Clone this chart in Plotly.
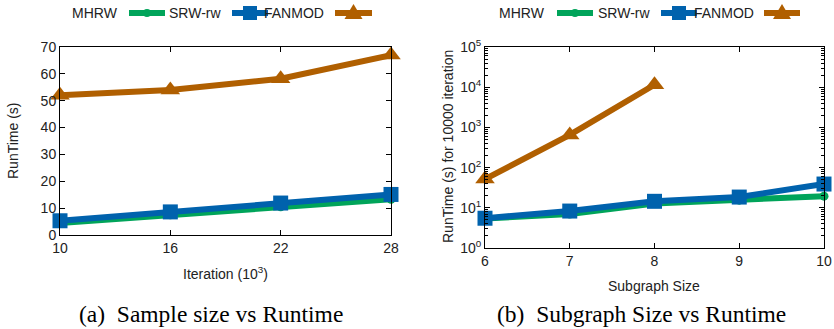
import plotly.graph_objects as go

W, H = 834, 329

# ---- data ----
iters = [10, 16, 22, 28]
mhrw_a = [4.5, 7.5, 10.5, 13.3]
srw_a = [5.3, 8.6, 11.9, 15.1]
fan_a = [52, 54, 58.2, 67]

sizes = [6, 7, 8, 9, 10]
mhrw_b = [5.4, 7.0, 12.8, 15.5, 19.5]
srw_b = [5.5, 8.3, 14.5, 18.5, 39]
fan_sizes = [6, 7, 8]
fan_b = [52, 650, 11500]

series_names = ["MHRW", "SRW-rw", "FANMOD"]
colors = ["#00a45a", "#0062ad", "#b05f00"]
symbols = ["circle", "square", "triangle-up"]
msizes = [9, 15, 17]

yticks_b = [1, 10, 100, 1000, 10000, 100000]
yticktext_b = ["10<sup>%d</sup>" % i for i in range(6)]


def px(x):
    return x / W


def py(y):
    return 1 - y / H


fig = go.Figure()


def add(xs, ys, i, xa, ya):
    fig.add_trace(go.Scatter(
        x=xs, y=ys, mode="lines+markers", name=series_names[i],
        line=dict(color=colors[i], width=6),
        marker=dict(symbol=symbols[i], size=msizes[i], color=colors[i]),
        cliponaxis=False, showlegend=False, xaxis=xa, yaxis=ya))


add(iters, mhrw_a, 0, "x", "y")
add(iters, srw_a, 1, "x", "y")
add(iters, fan_a, 2, "x", "y")
add(sizes, mhrw_b, 0, "x2", "y2")
add(sizes, srw_b, 1, "x2", "y2")
add(fan_sizes, fan_b, 2, "x2", "y2")

SANS = "Liberation Sans, Arial"
tickfont = dict(family=SANS, size=14, color="#222")
common = dict(showline=True, linecolor="black", linewidth=1, mirror="allticks",
              ticks="inside", ticklen=5, tickcolor="black", showgrid=False,
              zeroline=False, tickfont=tickfont, automargin=False)

fig.update_layout(
    template="none",
    width=W, height=H, margin=dict(l=0, r=0, t=0, b=0, pad=0),
    plot_bgcolor="white", paper_bgcolor="white", showlegend=False,
    xaxis=dict(domain=[px(60), px(391)], range=[10, 28], tickvals=iters, anchor="y", **common),
    yaxis=dict(domain=[py(235), py(47)], range=[0, 70], dtick=10, anchor="x", **common),
    xaxis2=dict(domain=[px(485), px(824)], range=[6, 10], dtick=1, anchor="y2", **common),
    yaxis2=dict(domain=[py(248), py(47)], type="log", range=[0, 5], tickvals=yticks_b,
                ticktext=yticktext_b, anchor="x2",
                minor=dict(ticks="inside", ticklen=3, tickcolor="black",
                           tickvals=[m * 10 ** e for e in range(5) for m in range(2, 10)]),
                **common),
)

annots = []


def note(x, y, text, font, angle=0, xanchor="center"):
    annots.append(dict(x=px(x), y=py(y), text=text, showarrow=False, textangle=angle,
                       xanchor=xanchor, yanchor="middle", xref="paper", yref="paper", font=font))


lab = dict(family=SANS, size=14, color="#222")
note(225, 273, "Iteration (10<sup>3</sup>)", lab)
note(13, 141, "RunTime (s)", lab, angle=-90)
note(654, 286, "Subgraph Size", lab)
note(448, 147, "RunTime (s) for 10000 iteration", lab, angle=-90)

cap = dict(family="Liberation Serif, Times New Roman", size=23.5, color="black")
note(211, 314, "(a)\u00a0 Sample size vs Runtime", cap)
note(641, 314, "(b)\u00a0 Subgraph Size vs Runtime", cap)

shapes = []
legends = [
    [(120, 129, 165), (223, 232, 268), (326, 335, 372)],
    [(547, 557, 593), (652, 661, 697), (756, 764, 800)],
]
ly = 13
for leg in legends:
    for i, (tr, l0, l1) in enumerate(leg):
        note(tr, ly, series_names[i], dict(family=SANS, size=14, color="#222"), xanchor="right")
        shapes.append(dict(type="line", xref="paper", yref="paper", x0=px(l0), x1=px(l1),
                           y0=py(ly), y1=py(ly), line=dict(color=colors[i], width=6)))
        cx = (l0 + l1) / 2
        if i == 0:
            r = 4
            shapes.append(dict(type="circle", xref="paper", yref="paper", x0=px(cx - r), x1=px(cx + r),
                               y0=py(ly + r), y1=py(ly - r), fillcolor=colors[i], line=dict(width=0)))
        elif i == 1:
            r = 7
            shapes.append(dict(type="rect", xref="paper", yref="paper", x0=px(cx - r), x1=px(cx + r),
                               y0=py(ly + r), y1=py(ly - r), fillcolor=colors[i], line=dict(width=0)))
        else:
            path = "M %f %f L %f %f L %f %f Z" % (px(cx - 9), py(ly + 6), px(cx + 9), py(ly + 6),
                                                  px(cx), py(ly - 9))
            shapes.append(dict(type="path", xref="paper", yref="paper", path=path,
                               fillcolor=colors[i], line=dict(width=0)))

fig.update_layout(annotations=annots, shapes=shapes)
fig.write_html("out.html", config={"displayModeBar": False},
               post_script="document.body.style.margin='0';")
